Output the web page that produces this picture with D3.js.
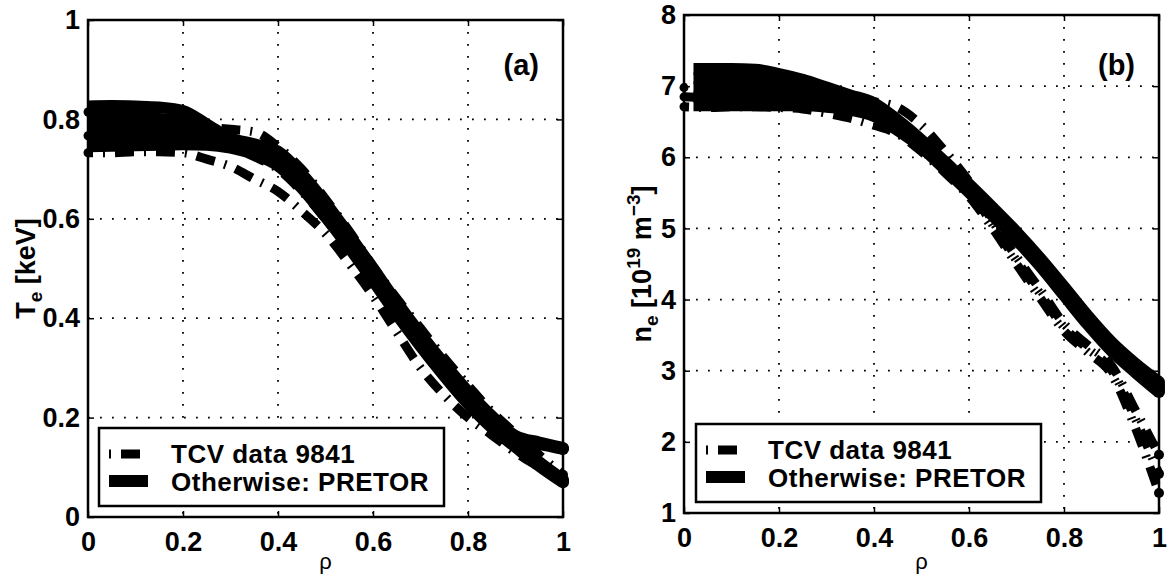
<!DOCTYPE html>
<html>
<head>
    <meta charset="UTF-8">
    <style>
        *{
            margin: 0;
            padding: 0;
        }
        body{
            background-color: #fff;
            width: 1170px;
            height: 575px;
            overflow: hidden;
        }
        svg text{
            font-family: "Liberation Sans", Arial, sans-serif;
            font-weight: bold;
            fill: #000;
        }
        .grid line{
            stroke: #000;
            stroke-width: 1.8;
            stroke-dasharray: 1.8,10.2;
        }
        .frame{
            fill: none;
            stroke: #000;
            stroke-width: 2.5;
        }
        .pretor{
            fill: none;
            stroke: #000;
            stroke-width: 12;
            stroke-linejoin: round;
        }
        .tcv{
            fill: none;
            stroke: #000;
            stroke-width: 9;
            stroke-dasharray: 2,10,19,10;
        }
    </style>
    <script src="https://d3js.org/d3.v7.min.js"></script>
    <title>Te and ne profiles</title>
</head>

<body>
<svg id="chart" width="1170" height="575"></svg>
<script>
    // normalised radius
    var rho = [0, 0.05, 0.1, 0.15, 0.2, 0.25, 0.3, 0.35, 0.4, 0.45, 0.5,
               0.55, 0.6, 0.65, 0.7, 0.75, 0.8, 0.85, 0.9, 0.95, 1];
    var rhoPretorB = [0.02, 0.05, 0.1, 0.15, 0.2, 0.25, 0.3, 0.35, 0.4, 0.45, 0.5,
                      0.55, 0.6, 0.65, 0.7, 0.75, 0.8, 0.85, 0.9, 0.95, 1];

    var xTicks = [0, 0.2, 0.4, 0.6, 0.8, 1];
    var teTicks = [0, 0.2, 0.4, 0.6, 0.8, 1];
    var neTicks = [1, 2, 3, 4, 5, 6, 7, 8];

    // (a) Te [keV], PRETOR time slices
    var pretorTe1 = [0.826,0.827,0.826,0.824,0.817,0.790,0.762,0.750,0.735,0.690,0.632,0.567,0.500,0.432,0.368,0.308,0.252,0.203,0.163,0.150,0.139];
    var pretorTe2 = [0.806,0.806,0.805,0.801,0.795,0.778,0.758,0.745,0.728,0.683,0.625,0.560,0.494,0.426,0.362,0.302,0.246,0.197,0.158,0.147,0.137];
    var pretorTe3 = [0.786,0.786,0.785,0.782,0.778,0.768,0.753,0.740,0.721,0.676,0.618,0.554,0.488,0.420,0.356,0.296,0.240,0.191,0.150,0.110,0.075];
    var pretorTe4 = [0.766,0.766,0.766,0.764,0.762,0.758,0.748,0.735,0.714,0.669,0.611,0.548,0.482,0.414,0.350,0.290,0.234,0.185,0.145,0.106,0.072];
    var pretorTe5 = [0.746,0.747,0.748,0.749,0.750,0.749,0.743,0.730,0.707,0.662,0.604,0.542,0.476,0.408,0.344,0.284,0.228,0.180,0.141,0.103,0.070];

    // (a) Te [keV], TCV data 9841
    var tcvTe1 = [0.815,0.800,0.795,0.795,0.790,0.785,0.780,0.775,0.745,0.700,0.640,0.575,0.505,0.440,0.380,0.320,0.265,0.212,0.168,0.125,0.085];
    var tcvTe2 = [0.767,0.770,0.775,0.775,0.770,0.760,0.745,0.725,0.700,0.655,0.600,0.540,0.475,0.410,0.350,0.290,0.238,0.190,0.145,0.110,0.075];
    var tcvTe3 = [0.733,0.733,0.735,0.735,0.733,0.720,0.705,0.680,0.655,0.615,0.570,0.510,0.445,0.372,0.300,0.245,0.200,0.165,0.130,0.100,0.070];

    // (b) ne [1e19 m^-3], PRETOR time slices
    var pretorNe1 = [7.24,7.24,7.24,7.23,7.17,7.09,6.98,6.87,6.76,6.52,6.24,5.93,5.62,5.29,4.95,4.58,4.18,3.77,3.40,3.10,2.84];
    var pretorNe2 = [7.11,7.11,7.11,7.10,7.06,7.00,6.91,6.82,6.71,6.49,6.22,5.91,5.60,5.27,4.93,4.56,4.15,3.74,3.37,3.07,2.80];
    var pretorNe3 = [6.98,6.98,6.98,6.97,6.95,6.91,6.85,6.77,6.67,6.46,6.20,5.89,5.57,5.24,4.90,4.53,4.12,3.71,3.34,3.04,2.77];
    var pretorNe4 = [6.85,6.85,6.85,6.85,6.84,6.82,6.78,6.72,6.62,6.42,6.17,5.86,5.54,5.21,4.87,4.50,4.09,3.68,3.31,3.01,2.73];
    var pretorNe5 = [6.73,6.73,6.73,6.73,6.73,6.73,6.71,6.67,6.58,6.38,6.14,5.83,5.51,5.18,4.84,4.47,4.06,3.65,3.28,2.98,2.70];

    // (b) ne [1e19 m^-3], TCV data 9841
    var tcvNe1 = [6.98,6.95,6.96,6.95,6.93,6.90,6.86,6.82,6.78,6.70,6.45,6.08,5.66,5.10,4.60,4.14,3.66,3.36,3.07,2.45,1.82];
    var tcvNe2 = [6.85,6.84,6.85,6.85,6.84,6.81,6.76,6.70,6.62,6.50,6.25,5.92,5.55,5.05,4.55,4.08,3.61,3.31,3.01,2.33,1.55];
    var tcvNe3 = [6.71,6.70,6.71,6.71,6.70,6.68,6.62,6.55,6.45,6.33,6.08,5.78,5.45,5.00,4.50,4.02,3.56,3.26,2.95,2.20,1.28];

    var svg = d3.select("#chart");

    function drawPanel(p) {
        var x = d3.scaleLinear().domain([0, 1]).range([p.left, p.right]);
        var y = d3.scaleLinear().domain(p.yDomain).range([p.bottom, p.top]);
        var g = svg.append("g");

        // dotted grid
        var grid = g.append("g").attr("class", "grid");
        grid.selectAll(".gx")
            .data(xTicks.slice(1, -1))
            .enter().append("line")
            .attr("x1", function(d) { return x(d); })
            .attr("x2", function(d) { return x(d); })
            .attr("y1", p.top).attr("y2", p.bottom);
        grid.selectAll(".gy")
            .data(p.yTicks.slice(1, -1))
            .enter().append("line")
            .attr("y1", function(d) { return y(d); })
            .attr("y2", function(d) { return y(d); })
            .attr("x1", p.left).attr("x2", p.right);

        var line = d3.line()
            .x(function(d) { return x(d[0]); })
            .y(function(d) { return y(d[1]); })
            .curve(d3.curveMonotoneX);

        p.pretor.forEach(function(s) {
            g.append("path").attr("class", "pretor")
                .attr("d", line(d3.zip(p.pretorRho, s)));
        });
        p.tcv.forEach(function(s, i) {
            g.append("path").attr("class", "tcv")
                .attr("stroke-dashoffset", i * 13)
                .attr("d", line(d3.zip(rho, s)));
            g.append("circle")
                .attr("cx", x(rho[0])).attr("cy", y(s[0])).attr("r", 4.5);
            g.append("circle")
                .attr("cx", x(rho[rho.length - 1])).attr("cy", y(s[s.length - 1])).attr("r", 5);
        });
        // rounded ends of the PRETOR profiles at the edge
        p.pretor.forEach(function(s) {
            g.append("circle")
                .attr("cx", x(1)).attr("cy", y(s[s.length - 1])).attr("r", 6);
        });

        // axes, matlab style inward ticks
        var fmt = d3.format("~g");
        var ax = g.append("g")
            .attr("transform", "translate(0," + p.bottom + ")")
            .call(d3.axisBottom(x).tickValues(xTicks).tickSizeInner(-6).tickSizeOuter(0)
                .tickPadding(15).tickFormat(fmt));
        var ay = g.append("g")
            .attr("transform", "translate(" + p.left + ",0)")
            .call(d3.axisLeft(y).tickValues(p.yTicks).tickSizeInner(-6).tickSizeOuter(0)
                .tickPadding(8).tickFormat(fmt));
        var at = g.append("g")
            .attr("transform", "translate(0," + p.top + ")")
            .call(d3.axisTop(x).tickValues(xTicks).tickSizeInner(-6).tickSizeOuter(0)
                .tickFormat(""));
        var ar = g.append("g")
            .attr("transform", "translate(" + p.right + ",0)")
            .call(d3.axisRight(y).tickValues(p.yTicks).tickSizeInner(-6).tickSizeOuter(0)
                .tickFormat(""));
        [ax, ay, at, ar].forEach(function(a) {
            a.select(".domain").remove();
            a.selectAll(".tick line").attr("stroke", "#000").attr("stroke-width", 1.5);
            a.selectAll("text").attr("font-size", "27px")
                .style("font-family", "'Liberation Sans', Arial, sans-serif")
                .style("font-weight", "bold");
        });

        g.append("rect").attr("class", "frame")
            .attr("x", p.left).attr("y", p.top)
            .attr("width", p.right - p.left).attr("height", p.bottom - p.top);

        // x label
        g.append("text")
            .attr("x", (p.left + p.right) / 2).attr("y", 569)
            .attr("text-anchor", "middle")
            .attr("font-size", "22px")
            .style("font-weight", "normal")
            .text("ρ");

        // y label
        var yl = g.append("text")
            .attr("transform", "translate(" + p.yLabelX + "," + (p.top + p.bottom) / 2 + ") rotate(-90)")
            .attr("text-anchor", "middle")
            .attr("font-size", "27px");
        p.yLabel(yl);

        // panel tag
        g.append("text")
            .attr("x", p.right - 24).attr("y", 75)
            .attr("text-anchor", "end")
            .attr("font-size", "29px")
            .text(p.tag);

        // legend
        var lg = g.append("g").attr("transform", "translate(" + p.legend[0] + "," + p.legend[1] + ")");
        lg.append("rect").attr("class", "frame")
            .attr("width", 345).attr("height", 78).style("fill", "#fff");
        lg.append("line").attr("class", "tcv")
            .attr("x1", 10).attr("x2", 42).attr("y1", 26).attr("y2", 26)
            .attr("stroke-width", 8);
        lg.append("line").attr("class", "pretor")
            .attr("x1", 10).attr("x2", 49).attr("y1", 53).attr("y2", 53)
            .attr("stroke-width", 10);
        lg.append("text").attr("x", 72).attr("y", 35).attr("font-size", "26px")
            .attr("letter-spacing", "0.5px").text("TCV data 9841");
        lg.append("text").attr("x", 72).attr("y", 63).attr("font-size", "26px")
            .attr("letter-spacing", "0.5px").text("Otherwise: PRETOR");
    }

    drawPanel({
        left: 88, right: 563, top: 20, bottom: 517,
        yDomain: [0, 1], yTicks: teTicks,
        pretorRho: rho,
        pretor: [pretorTe1, pretorTe2, pretorTe3, pretorTe4, pretorTe5],
        tcv: [tcvTe1, tcvTe2, tcvTe3],
        yLabelX: 35,
        yLabel: function(t) {
            t.append("tspan").text("T");
            t.append("tspan").attr("font-size", "19px").attr("dy", 7).text("e");
            t.append("tspan").attr("dy", -7).text(" [keV]");
        },
        tag: "(a)",
        legend: [99, 428]
    });

    drawPanel({
        left: 684, right: 1159, top: 15, bottom: 513,
        yDomain: [1, 8], yTicks: neTicks,
        pretorRho: rhoPretorB,
        pretor: [pretorNe1, pretorNe2, pretorNe3, pretorNe4, pretorNe5],
        tcv: [tcvNe1, tcvNe2, tcvNe3],
        yLabelX: 651,
        yLabel: function(t) {
            t.append("tspan").text("n");
            t.append("tspan").attr("font-size", "19px").attr("dy", 7).text("e");
            t.append("tspan").attr("dy", -7).text(" [10");
            t.append("tspan").attr("font-size", "19px").attr("dy", -11).text("19");
            t.append("tspan").attr("dy", 11).text(" m");
            t.append("tspan").attr("font-size", "19px").attr("dy", -11).text("−3");
            t.append("tspan").attr("dy", 11).text("]");
        },
        tag: "(b)",
        legend: [696, 424]
    });
</script>
</body>
</html>
